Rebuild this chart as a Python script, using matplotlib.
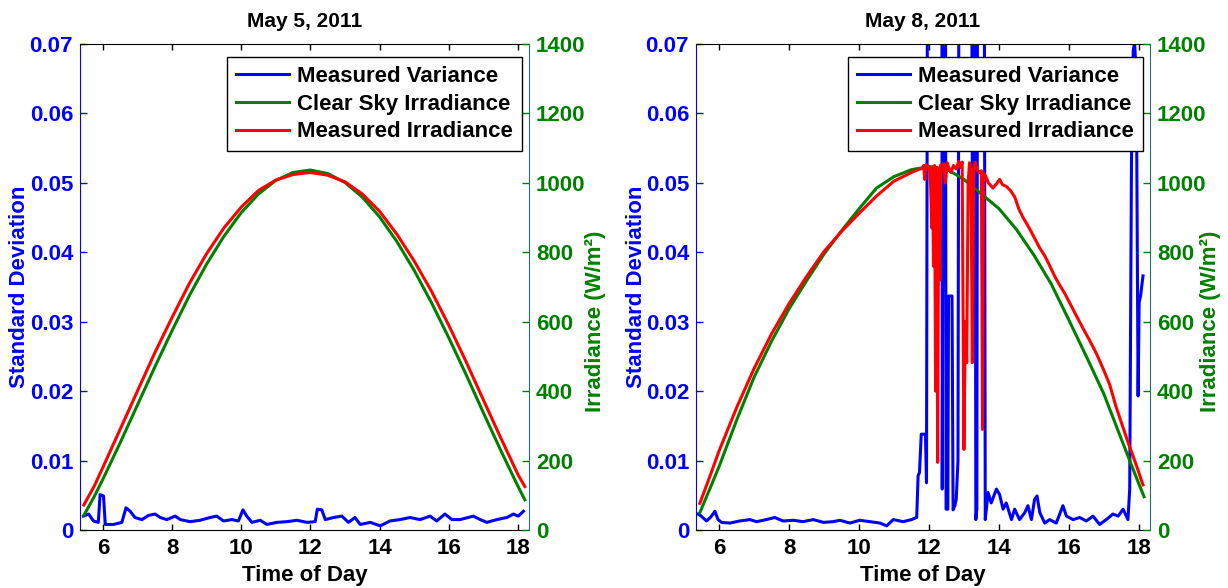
import matplotlib
matplotlib.use('Agg')
import matplotlib.pyplot as plt

plt.rcParams['font.family'] = ['Liberation Sans', 'DejaVu Sans']
plt.rcParams['font.weight'] = 'bold'

# --- May 5, 2011: clear day ---
t_irr_may5 = [5.45, 5.75, 6.0, 6.5, 7.0, 7.5, 8.0, 8.5, 9.0, 9.5, 10.0, 10.5, 11.0, 11.5,
              12.0, 12.5, 13.0, 13.5, 14.0, 14.5, 15.0, 15.5, 16.0, 16.5, 17.0, 17.5, 18.0, 18.2]
clear_may5 = [42, 96, 146, 251, 360, 469, 574, 675, 766, 846, 914, 968, 1007, 1030,
              1037, 1027, 1001, 959, 902, 831, 748, 655, 554, 448, 338, 230, 126, 87]
meas_may5 = [72, 126, 180, 290, 400, 510, 612, 710, 796, 870, 930, 978, 1008, 1024,
             1030, 1022, 1003, 968, 918, 852, 775, 688, 590, 485, 375, 266, 160, 125]

t_std_may5 = [5.44, 5.59, 5.73, 5.87, 5.92, 6.02, 6.07, 6.31, 6.55, 6.67,
              6.79, 6.93, 7.13, 7.32, 7.51, 7.66, 7.85, 8.09, 8.24, 8.52,
              8.81, 9.10, 9.29, 9.49, 9.73, 9.92, 10.05, 10.16, 10.31, 10.55,
              10.74, 11.03, 11.32, 11.61, 11.90, 12.14, 12.20, 12.33, 12.43, 12.67,
              12.91, 13.10, 13.29, 13.44, 13.73, 14.02, 14.30, 14.59, 14.88, 15.17,
              15.46, 15.65, 15.89, 16.09, 16.33, 16.71, 16.91, 17.10, 17.39, 17.68,
              17.87, 18.01, 18.16]
std_may5 = [.0020, .0023, .0013, .0011, .0051, .0049, .0008, .0008, .0011, .0032,
            .0027, .0018, .0015, .0021, .0023, .0018, .0015, .0020, .0015, .0012,
            .0014, .0018, .0020, .0013, .0015, .0013, .0029, .0020, .0011, .0014,
            .0008, .0011, .0012, .0014, .0011, .0012, .0030, .0029, .0015, .0018,
            .0020, .0011, .0018, .0008, .0011, .0006, .0013, .0015, .0018, .0015,
            .0020, .0013, .0023, .0015, .0015, .0020, .0015, .0011, .0015, .0018,
            .0023, .0020, .0027]

# --- May 8, 2011: clouds around noon ---
t_clear_may8 = [5.45, 5.75, 6.0, 6.5, 7.0, 7.5, 8.0, 8.5, 9.0, 9.5, 10.0, 10.5, 11.0, 11.5,
                12.0, 12.5, 13.0, 13.5, 14.0, 14.5, 15.0, 15.5, 16.0, 16.5, 17.0, 17.5, 18.0, 18.15]
clear_may8 = [50, 122, 183, 316, 440, 544, 637, 718, 795, 862, 925, 985, 1018, 1038,
              1047, 1040, 1010, 968, 926, 866, 792, 708, 605, 500, 392, 262, 133, 96]

t_meas_may8 = [5.45, 5.75, 6.0, 6.5, 7.0, 7.5, 8.0, 8.5, 9.0, 9.5, 10.0, 10.5, 11.0, 11.5, 11.8,
               11.85, 11.88, 11.92, 11.97, 12.02, 12.05, 12.08, 12.10, 12.13, 12.16,
               12.19, 12.22, 12.25, 12.28, 12.31, 12.34, 12.38, 12.42, 12.47, 12.52,
               12.58, 12.63, 12.70, 12.78, 12.85, 12.90, 12.95, 13.00, 13.04, 13.08,
               13.12, 13.16, 13.20, 13.24, 13.28, 13.32, 13.38, 13.43, 13.50, 13.53,
               13.56, 13.62, 13.70, 13.83, 13.95, 14.02, 14.10, 14.21, 14.33, 14.45,
               14.57, 14.69, 14.81, 14.93, 15.05, 15.17, 15.31, 15.45, 15.60, 15.74,
               15.88, 16.02, 16.20, 16.41, 16.60, 16.79, 17.00, 17.17, 17.35, 17.55,
               17.70, 17.84, 17.98, 18.05, 18.12]
meas_may8 = [77, 158, 228, 352, 465, 565, 652, 730, 802, 860, 912, 962, 1005, 1030, 1042,
             1050, 1010, 1052, 1048, 1040, 990, 870, 1045, 760, 1050,
             400, 1045, 195, 1040, 720, 1052, 1040, 1055, 1000, 1058,
             1040, 1030, 1050, 1040, 1062, 1045, 1060, 232, 600, 482,
             1000, 1058, 1040, 482, 1040, 1060, 1039, 1029, 1035, 290,
             1029, 1020, 1000, 985, 1000, 1010, 995, 990, 978, 960,
             925, 900, 880, 858, 835, 812, 790, 762, 730, 705,
             682, 655, 620, 580, 545, 508, 460, 418, 355, 295,
             250, 212, 172, 150, 130]

t_std_may8 = [5.40, 5.49, 5.64, 5.75, 5.88, 5.97, 6.07, 6.31, 6.59, 6.88,
              7.07, 7.35, 7.59, 7.83, 8.12, 8.40, 8.69, 8.98, 9.26, 9.45,
              9.74, 10.02, 10.31, 10.60, 10.79, 10.98, 11.26, 11.50, 11.65,
              11.69, 11.73, 11.78, 11.90, 11.93, 11.96, 12.37, 12.38, 12.42, 12.47,
              12.49, 12.54, 12.56, 12.66, 12.69, 12.74, 12.78, 12.83, 12.86, 13.22,
              13.25, 13.28, 13.32, 13.34, 13.37, 13.39, 13.58, 13.61,
              13.69, 13.78, 13.93, 14.02, 14.12, 14.21, 14.36, 14.45, 14.59, 14.74,
              14.83, 14.93, 15.02, 15.09, 15.17, 15.31, 15.45, 15.64, 15.83, 15.93,
              16.12, 16.31, 16.50, 16.69, 16.88, 17.07, 17.26, 17.41, 17.55, 17.69,
              17.74, 17.79, 17.84, 17.88, 17.93, 17.98, 18.01, 18.05, 18.12]
std_may8 = [.0023, .0020, .0013, .0018, .0027, .0015, .0011, .0010, .0013, .0015,
            .0012, .0015, .0018, .0013, .0014, .0012, .0015, .0011, .0012, .0014,
            .0010, .0014, .0012, .0010, .0006, .0015, .0012, .0015, .0018,
            .0078, .0083, .0138, .0138, .0068, .09, .09, .0059, .09, .09,
            .0030, .0030, .0337, .0337, .0029, .0035, .0044, .0100, .09, .09,
            .0318, .09, .09, .0015, .0030, .09, .09, .0015,
            .0054, .0039, .0059, .0051, .0030, .0039, .0015, .0030, .0015, .0025,
            .0035, .0015, .0044, .0049, .0025, .0010, .0015, .0010, .0035, .0020,
            .0015, .0018, .0013, .0020, .0008, .0015, .0023, .0020, .0030, .0015,
            .0059, .0530, .0690, .0702, .0650, .0193, .0328, .0337, .0366]

hour_ticks = [6, 8, 10, 12, 14, 16, 18]
std_ticks = [0, 0.01, 0.02, 0.03, 0.04, 0.05, 0.06, 0.07]
std_labels = ['0', '0.01', '0.02', '0.03', '0.04', '0.05', '0.06', '0.07']
irr_ticks = [0, 200, 400, 600, 800, 1000, 1200, 1400]

BLUE = '#0000ff'
GREEN = '#008000'
RED = '#ff0000'
TEAL = '#1f6f6f'
FS = 16


def draw_panel(fig, rect, title, t_std, std, t_clear, clear, t_meas, meas,
               left_label_x, right_label_x):
    ax = fig.add_axes(rect)
    ax2 = ax.twinx()

    l1, = ax.plot(t_std, std, color=BLUE, lw=2.2)
    l2, = ax2.plot(t_clear, clear, color=GREEN, lw=2.2)
    l3, = ax2.plot(t_meas, meas, color=RED, lw=2.2)

    ax.set_xlim(5.34, 18.32)
    ax.set_ylim(0, 0.07)
    ax2.set_ylim(0, 1400)
    ax.set_xticks(hour_ticks)
    ax.set_yticks(std_ticks)
    ax.set_yticklabels(std_labels)
    ax2.set_yticks(irr_ticks)

    ax.tick_params(axis='x', direction='in', length=4, width=1, top=True,
                   labelsize=FS, pad=6)
    ax.tick_params(axis='y', direction='in', length=5, width=1, color=BLUE,
                   labelcolor=BLUE, labelsize=FS, pad=5)
    ax2.tick_params(axis='y', direction='in', length=5, width=1, color=GREEN,
                    labelcolor=GREEN, labelsize=FS, pad=5)

    ax.spines['left'].set_color(BLUE)
    ax.spines['right'].set_visible(False)
    for s in ('left', 'top', 'bottom'):
        ax2.spines[s].set_visible(False)
    ax2.spines['right'].set_color(TEAL)

    ax.set_title(title, fontsize=15, fontweight='bold', pad=12)
    ax.set_xlabel('Time of Day', fontsize=FS, fontweight='bold')
    ax.xaxis.set_label_coords(0.5, -0.072)
    ax.set_ylabel('Standard Deviation', fontsize=FS, fontweight='bold', color=BLUE)
    ax.yaxis.set_label_coords(left_label_x, 0.5)
    ax2.set_ylabel('Irradiance (W/m²)', fontsize=FS, fontweight='bold', color=GREEN)
    ax2.yaxis.set_label_coords(right_label_x, 0.43)

    leg = ax2.legend([l1, l2, l3],
                     ['Measured Variance', 'Clear Sky Irradiance', 'Measured Irradiance'],
                     loc='upper right', bbox_to_anchor=(0.984, 0.973), borderaxespad=0,
                     fontsize=FS, fancybox=False, framealpha=1, edgecolor='black',
                     handlelength=2.4, handletextpad=0.35, labelspacing=0.3,
                     borderpad=0.4)
    leg.get_frame().set_linewidth(1.0)
    leg.set_zorder(10)
    return ax, ax2


fig = plt.figure(figsize=(12.28, 5.88), dpi=100)
draw_panel(fig, [80 / 1228, 58 / 588, 449 / 1228, 486 / 588], 'May 5, 2011',
           t_std_may5, std_may5, t_irr_may5, clear_may5, t_irr_may5, meas_may5,
           -0.111, 1.125)
draw_panel(fig, [696 / 1228, 58 / 588, 454 / 1228, 486 / 588], 'May 8, 2011',
           t_std_may8, std_may8, t_clear_may8, clear_may8, t_meas_may8, meas_may8,
           -0.108, 1.110)
fig.savefig('out.png', dpi=100)
